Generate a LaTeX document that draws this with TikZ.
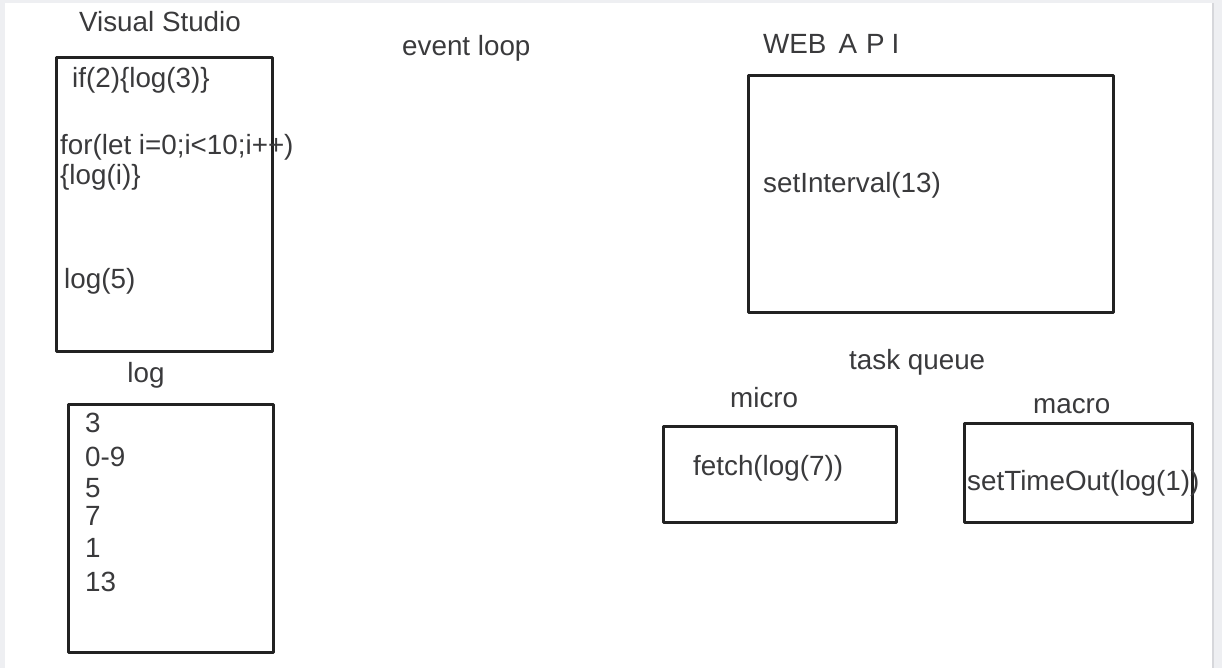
\documentclass[tikz,border=0pt]{standalone}
\usepackage{fontspec}
\setmainfont{Liberation Sans}
\definecolor{txt}{HTML}{3A3A3C}
\definecolor{ln}{HTML}{222222}
\definecolor{bg}{HTML}{EEEFF2}
\definecolor{edge}{HTML}{D6D7DB}
\tikzset{
  box/.style={draw=ln, line width=3pt, inner sep=0pt, line join=round},
  lbl/.style={inner sep=0pt, text=txt, font=\fontsize{27.8}{32}\selectfont},
  lw/.style={lbl, anchor=base west},
  lc/.style={lbl, anchor=base},
}
\begin{document}
\begin{tikzpicture}[x=1pt,y=-1pt]
\useasboundingbox (0,0) rectangle (1222,668);
\fill[bg] (0,0) rectangle (1222,668);
\fill[white] (5,3) rectangle (1213,668);
\draw[edge, line width=2pt] (1213,3) -- (1213,668);

% left column
\node[lc] (vs) at (160,32) {Visual Studio};
\node[box, minimum width=215.5pt, minimum height=293.5pt] (code) at (164.25,204.25) {};
\node[lw] (c1) at (72,88) {if(2)\{log(3)\}};
\node[lw] (c2) at (60,155) {for(let i=0;i<10;i++)};
\node[lw] (c3) at (60,185) {\{log(i)\}};
\node[lw] (c4) at (64,288) {log(5)};

\node[lc] (logt) at (146,382) {log};
\node[box, minimum width=204.5pt, minimum height=248pt] (logbox) at (170.75,528) {};
\node[lw] (o1) at (85,432) {3};
\node[lw] (o2) at (85,466) {0-9};
\node[lw] (o3) at (85,497) {5};
\node[lw] (o4) at (85,525) {7};
\node[lw] (o5) at (85,557) {1};
\node[lw] (o6) at (85,591) {13};

% middle
\node[lw] (ev) at (402,56) {event loop};

% web api
\node[lw] (web) at (763,54) {WEB\hspace{12pt}A\hspace{9pt}P\hspace{7pt}I};
\node[box, minimum width=365.5pt, minimum height=236.5pt] (api) at (930.75,194.25) {};
\node[lw] (si) at (763,193) {setInterval(13)};

% task queue
\node[lw] (tq) at (849,369) {task queue};
\node[lw] (mi) at (730,407) {micro};
\node[box, minimum width=233pt, minimum height=96pt] (mibox) at (779.5,474) {};
\node[lw] (fe) at (693,475) {fetch(log(7))};
\node[lw] (ma) at (1033,413) {macro};
\node[box, minimum width=228.5pt, minimum height=99pt] (mabox) at (1078.25,472.5) {};
\node[lw] (st) at (967,490) {setTimeOut(log(1))};
\end{tikzpicture}
\end{document}
